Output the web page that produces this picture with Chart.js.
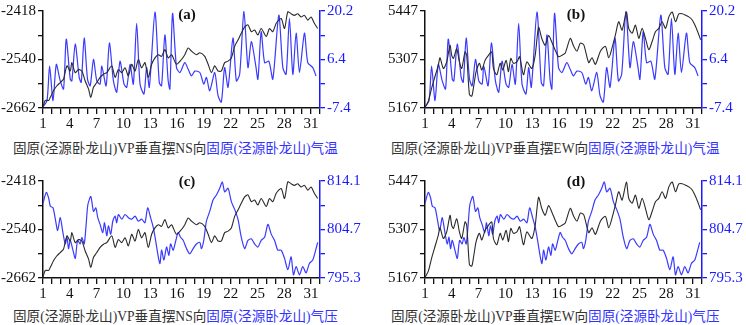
<!DOCTYPE html>
<html><head><meta charset="utf-8">
<script src="https://cdn.jsdelivr.net/npm/chart.js@4/dist/chart.umd.min.js"></script>
<style>
html,body{margin:0;padding:0;background:#fff;width:746px;height:325px;overflow:hidden;position:relative;}
canvas{position:absolute;}
.cap{position:absolute;font-family:"Liberation Serif","Noto Sans CJK SC",serif;font-size:13.6px;white-space:nowrap;color:#333;}
.cap .b{color:#3333ff;}
.tag{position:absolute;font-family:"Liberation Serif",serif;font-weight:bold;font-size:15px;color:#111;transform:translateX(-50%);}
</style></head><body>
<canvas id="ca" width="373" height="130" style="left:0;top:0"></canvas>
<canvas id="cb" width="373" height="130" style="left:373px;top:0"></canvas>
<canvas id="cc" width="373" height="130" style="left:0;top:170px"></canvas>
<canvas id="cd" width="373" height="130" style="left:373px;top:170px"></canvas>
<div class="tag" style="left:187px;top:6px">(a)</div>
<div class="tag" style="left:576px;top:6px">(b)</div>
<div class="tag" style="left:187px;top:173px">(c)</div>
<div class="tag" style="left:576px;top:173px">(d)</div>
<div class="cap" style="left:13px;top:137px">固原(泾源卧龙山)VP垂直摆NS向<span class="b">固原(泾源卧龙山)气温</span></div>
<div class="cap" style="left:391px;top:137px">固原(泾源卧龙山)VP垂直摆EW向<span class="b">固原(泾源卧龙山)气温</span></div>
<div class="cap" style="left:13px;top:305px">固原(泾源卧龙山)VP垂直摆NS向<span class="b">固原(泾源卧龙山)气压</span></div>
<div class="cap" style="left:391px;top:305px">固原(泾源卧龙山)VP垂直摆EW向<span class="b">固原(泾源卧龙山)气压</span></div>
<script>
// ---- data (day of month, value) ----
const nsDays = [1.00,1.26,1.63,1.82,2.19,2.56,2.93,3.30,3.68,4.05,4.23,4.61,4.98,5.35,5.72,6.09,6.35,6.65,7.02,7.39,7.77,8.14,8.70,9.07,9.44,9.81,10.18,10.55,10.93,11.30,11.67,12.04,12.41,12.78,13.16,13.53,13.90,14.27,14.64,15.01,15.39,15.94,16.50,16.87,17.25,17.62,18.17,18.55,19.10,19.48,19.85,20.22,20.59,20.96,21.33,21.71,22.08,22.45,22.82,23.19,23.57,23.94,24.31,24.68,25.05,25.42,25.98,26.35,26.72,27.10,27.65,28.03,28.40,28.77,29.14,29.51,29.88,30.26,30.63,31.00,31.37,31.74];
const nsVals = [-2659,-2643,-2643,-2635,-2618,-2606,-2598,-2589,-2556,-2569,-2548,-2573,-2565,-2569,-2594,-2614,-2635,-2610,-2598,-2585,-2577,-2573,-2556,-2585,-2565,-2573,-2561,-2581,-2552,-2569,-2540,-2561,-2548,-2585,-2552,-2536,-2528,-2532,-2515,-2536,-2528,-2552,-2540,-2528,-2511,-2519,-2528,-2523,-2532,-2552,-2573,-2556,-2569,-2569,-2548,-2544,-2536,-2507,-2491,-2474,-2458,-2453,-2470,-2466,-2478,-2462,-2482,-2462,-2470,-2449,-2437,-2462,-2420,-2425,-2429,-2425,-2433,-2429,-2441,-2433,-2449,-2462];

const ewDays = [1.00,1.37,1.75,2.12,2.49,2.68,3.06,3.43,3.80,3.99,4.18,4.55,4.85,5.11,5.48,5.67,5.97,6.23,6.42,6.72,7.09,7.35,7.73,8.10,8.47,8.66,9.03,9.41,9.71,10.08,10.34,10.60,10.90,11.28,11.58,12.02,12.40,12.96,13.33,13.71,14.08,14.45,14.83,15.20,15.57,15.95,16.32,16.70,17.26,17.64,18.01,18.38,18.76,19.32,19.69,20.07,20.63,21.19,21.56,21.93,22.31,22.68,23.06,23.54,23.80,24.18,24.55,24.93,25.30,25.67,26.05,26.42,26.79,27.17,27.54,27.92,28.29,28.66,29.04,29.41,29.79,30.16,30.53,30.91,31.28,31.65,31.84];
const ewVals = [5168,5187,5225,5258,5291,5312,5281,5300,5348,5319,5310,5338,5300,5281,5329,5319,5206,5201,5225,5272,5296,5277,5305,5319,5329,5281,5263,5296,5277,5305,5272,5310,5296,5300,5315,5263,5300,5281,5319,5400,5367,5348,5376,5357,5334,5315,5319,5326,5368,5345,5331,5354,5350,5298,5312,5293,5331,5345,5312,5340,5378,5416,5392,5444,5397,5383,5406,5368,5397,5368,5335,5359,5387,5397,5416,5397,5430,5444,5416,5439,5439,5435,5430,5421,5402,5378,5364];

const tempDays = [1.00,1.45,1.74,2.12,2.49,2.93,3.30,3.60,4.05,4.23,4.61,5.05,5.28,5.61,5.98,6.28,6.65,7.02,7.39,7.58,8.06,8.43,8.88,9.25,9.62,10.07,10.37,10.74,11.11,11.48,11.86,12.30,12.60,12.90,13.53,14.01,14.27,14.64,15.01,15.20,15.50,15.94,16.32,16.87,17.25,17.62,17.99,18.55,18.99,19.29,19.66,20.22,20.59,20.96,21.33,21.71,22.26,22.64,23.01,23.49,23.94,24.31,24.79,25.05,25.42,25.80,26.28,26.72,27.39,27.84,28.21,28.58,28.96,29.33,29.70,30.26,30.63,31.19,31.56];
const tempVals = [-7.1,-5.3,4.5,-5.3,5.0,0.3,-2.0,12.2,0.8,0.3,10.8,1.3,-0.1,12.5,0.8,-1.1,6.4,0.3,-0.6,4.5,-1.1,11.1,0.3,-2.9,5.9,-0.6,-1.5,5.0,-0.6,16.7,-0.6,-3.4,4.1,-1.5,19.9,-0.1,-1.1,13.4,0.3,-2.0,19.5,4.1,2.7,5.5,3.6,1.7,3.1,2.7,-0.6,1.3,-2.5,2.7,-3.9,-5.7,4.1,-1.5,12.5,0.3,2.2,20.2,4.1,11.5,5.0,0.8,14.3,5.5,5.9,0.8,19.0,4.1,2.2,18.1,2.2,13.9,2.7,13.9,5.5,4.1,1.7];

const presDays = [1.00,1.37,1.63,1.82,2.12,2.38,2.64,2.93,3.23,3.49,3.68,3.86,4.05,4.35,4.61,4.87,5.16,5.35,5.61,5.83,6.02,6.35,6.65,6.91,7.13,7.39,7.69,7.88,8.14,8.32,8.58,8.81,9.07,9.25,9.44,9.81,10.18,10.55,10.93,11.30,11.67,12.04,12.41,12.71,13.04,13.34,13.60,13.90,14.09,14.27,14.53,14.83,15.09,15.28,15.57,15.87,16.13,16.39,16.69,17.06,17.43,17.80,18.17,18.55,18.73,18.99,19.29,19.66,20.03,20.41,20.78,21.07,21.33,21.71,22.08,22.45,22.82,23.19,23.57,23.94,24.31,24.68,25.05,25.42,25.80,26.17,26.54,26.91,27.28,27.65,28.03,28.40,28.77,29.03,29.33,29.70,30.07,30.44,30.81,31.19,31.56,31.74];
const presVals = [809.8,811.9,810.8,809.2,808.9,806.7,804.5,807.0,804.1,801.9,803.2,801.0,802.6,800.7,799.1,802.6,801.9,803.2,801.9,805.7,809.5,811.1,808.2,808.9,807.0,805.7,804.1,806.0,803.5,805.4,803.8,806.3,807.3,806.0,807.6,806.7,807.6,807.0,806.7,807.3,806.3,806.7,806.0,808.9,807.0,805.1,802.6,799.4,798.1,800.7,798.8,801.3,799.7,801.9,800.7,802.6,804.1,803.2,802.6,801.0,800.0,801.0,801.9,802.2,801.0,802.6,806.3,808.2,810.4,811.4,812.7,813.9,812.0,812.7,810.1,808.6,806.7,803.2,801.0,802.6,802.9,801.9,801.3,802.6,803.2,805.7,803.8,802.6,800.7,800.7,799.1,796.9,799.4,795.9,797.5,795.9,797.5,796.3,798.1,798.8,801.0,802.2];

// ---- axis ticks ----
const dayTicks = [1,4,7,10,13,16,19,22,25,28,31];
const nsTicks = [-2662,-2601,-2540,-2479,-2418];
const nsLabels = ['-2662','','-2540','','-2418'];
const ewTicks = [5167,5237,5307,5377,5447];
const ewLabels = ['5167','','5307','','5447'];
const tempTicks = [-7.4,-0.5,6.4,13.3,20.2];
const tempLabels = ['-7.4','','6.4','','20.2'];
const presTicks = [795.3,800.0,804.7,809.4,814.1];
const presLabels = ['795.3','','804.7','','814.1'];

const BLACK = '#2a2a2a', BLUE = '#3a3aff', AXB = '#1a1aff';
const FONT = {family:'"Liberation Serif", serif', size:15};

function pts(xs, ys){ return xs.map((x,i)=>({x:x, y:ys[i]})); }

function makePanel(id, leftW, rightW, bD, bV, lT, lL, rD, rV, rT, rL){
  new Chart(document.getElementById(id), {
    type:'line',
    data:{datasets:[
      {data:pts(rD,rV), yAxisID:'yr', borderColor:BLUE, borderWidth:1.2, pointRadius:0, tension:0.25, order:2},
      {data:pts(bD,bV), yAxisID:'yl', borderColor:BLACK, borderWidth:1.1, pointRadius:0, tension:0.25, order:1}
    ]},
    options:{
      responsive:false, animation:false, devicePixelRatio:1,
      layout:{padding:{top:9,left:0,right:0,bottom:0}},
      plugins:{legend:{display:false}, tooltip:{enabled:false}},
      scales:{
        x:{type:'linear', min:1, max:32,
           afterFit:s=>{s.height=22;},
           afterBuildTicks:s=>{const t=[];for(let d=1;d<=32;d++)t.push({value:d});s.ticks=t;},
           ticks:{autoSkip:false,maxRotation:0,padding:1,color:'#111',font:FONT,
             callback:v=>dayTicks.includes(v)?String(v):''},
           grid:{drawOnChartArea:false,drawTicks:true,tickLength:6,color:'#111',lineWidth:1.3},
           border:{display:true,color:'#111',width:1.5}},
        yl:{position:'left', min:lT[0], max:lT[lT.length-1],
           afterFit:s=>{s.width=leftW;},
           afterBuildTicks:s=>{s.ticks=lT.map(v=>({value:v}));},
           ticks:{padding:2,color:'#111',font:FONT,callback:(v,i)=>lL[i]},
           grid:{drawOnChartArea:false,drawTicks:true,tickLength:5,color:'#111',lineWidth:1.3},
           border:{display:true,color:'#111',width:1.5}},
        yr:{position:'right', min:rT[0], max:rT[rT.length-1],
           afterFit:s=>{s.width=rightW;},
           afterBuildTicks:s=>{s.ticks=rT.map(v=>({value:v}));},
           ticks:{padding:2,color:AXB,font:FONT,callback:(v,i)=>rL[i]},
           grid:{drawOnChartArea:false,drawTicks:true,tickLength:5,color:AXB,lineWidth:1.3},
           border:{display:true,color:AXB,width:1.5}}
      }
    }
  });
}

makePanel('ca',43,53,nsDays,nsVals,nsTicks,nsLabels,tempDays,tempVals,tempTicks,tempLabels);
makePanel('cb',52,44,ewDays,ewVals,ewTicks,ewLabels,tempDays,tempVals,tempTicks,tempLabels);
makePanel('cc',43,53,nsDays,nsVals,nsTicks,nsLabels,presDays,presVals,presTicks,presLabels);
makePanel('cd',52,44,ewDays,ewVals,ewTicks,ewLabels,presDays,presVals,presTicks,presLabels);
</script>
</body></html>
